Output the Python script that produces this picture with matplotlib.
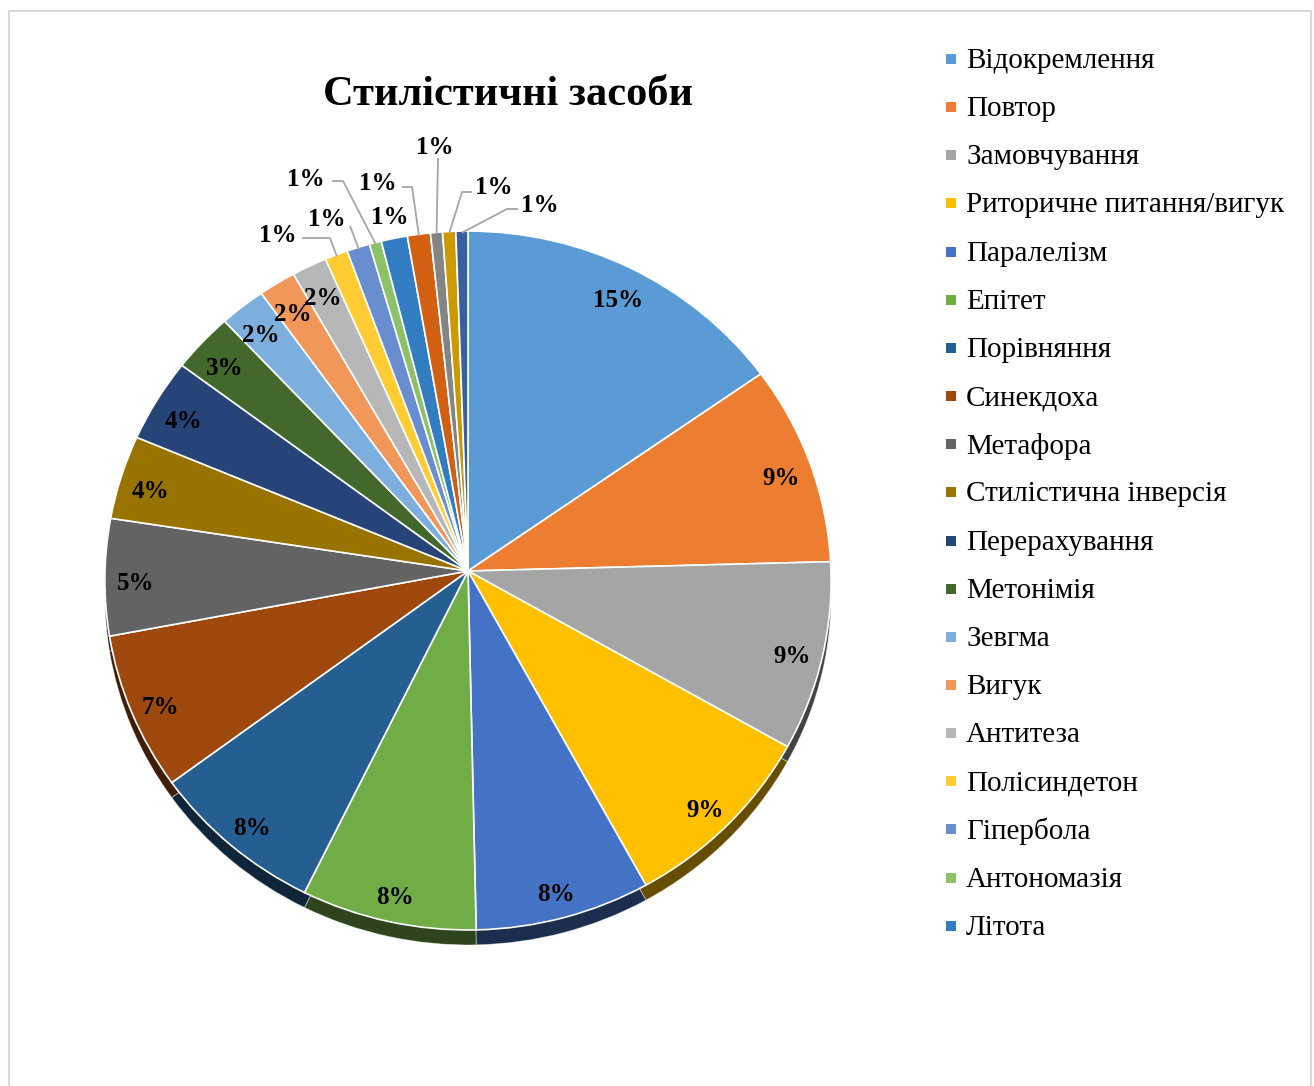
import matplotlib
matplotlib.use('Agg')
import matplotlib.pyplot as plt
from matplotlib.patches import Rectangle
from matplotlib.colors import to_rgb
from matplotlib.transforms import Transform, Affine2D
import numpy as np

# ---------------- data ----------------
title = "Стилістичні засоби"
categories = ["Відокремлення", "Повтор", "Замовчування", "Риторичне питання/вигук",
              "Паралелізм", "Епітет", "Порівняння", "Синекдоха", "Метафора",
              "Стилістична інверсія", "Перерахування", "Метонімія", "Зевгма", "Вигук",
              "Антитеза", "Полісиндетон", "Гіпербола", "Антономазія", "Літота",
              "Категорія 20", "Категорія 21", "Категорія 22", "Категорія 23"]
# estimated shares (%)
values = [15.3, 9.3, 8.7, 8.8, 7.6, 7.6, 7.6, 7.2, 5.4, 3.9, 3.9, 2.8, 2.1, 1.7,
          1.6, 1.05, 1.05, 0.55, 1.2, 1.05, 0.55, 0.6, 0.55]
colors = ["#5B9BD5", "#ED7D31", "#A5A5A5", "#FFC000", "#4472C4", "#70AD47",
          "#255E91", "#9E480E", "#636363", "#997300", "#264478", "#43682B",
          "#7CAFDD", "#F1975A", "#B7B7B7", "#FFCD33", "#698ED0", "#8CC168",
          "#327DC2", "#D26012", "#848484", "#CC9A00", "#3A5FA0"]
legend_count = 19

# ---------------- layout (pixels) ----------------
W, H = 1314, 1086
CX, CY = 468, 571          # point where slices meet
SX, SY, TILT = 363, 349.2, 0.0272   # perspective-like projection of the pie disc
DEPTH = 15
LABEL_DY = 7
serif = ["Liberation Serif", "DejaVu Serif"]

# outside labels for the smallest slices: (index, label xy, leader polyline start/elbow points)
outside = [
    (15, (278, 235), [(302, 238), (330, 238)]),
    (16, (327, 219), [(350, 226)]),
    (17, (306, 179), [(332, 181), (343, 181)]),
    (18, (390, 217), []),
    (19, (378, 184), [(402, 187), (412, 187)]),
    (20, (435, 147), [(438, 158)]),
    (21, (494, 187), [(472, 192), (462, 192)]),
    (22, (540, 206), [(518, 209), (507, 209)]),
]


class Tilt(Transform):
    """Maps the unit pie disc to pixel coordinates with a slight 3D tilt."""
    input_dims = output_dims = 2

    def transform_non_affine(self, xy):
        xy = np.asarray(xy, dtype=float).reshape(-1, 2)
        d = 1 + TILT * xy[:, 1]
        return np.column_stack([CX + SX * xy[:, 0] / d, CY - SY * xy[:, 1] / d])


fig = plt.figure(figsize=(W / 100, H / 100), dpi=100)
ax = fig.add_axes([0, 0, 1, 1])
tilt = Tilt()

dark = [tuple(c * 0.4 for c in to_rgb(col)) for col in colors]

# side (depth) of the 3D pie
side_w, _ = ax.pie(values, colors=dark, startangle=90, counterclock=False, radius=1,
                   wedgeprops=dict(edgecolor=(1, 1, 1, 0.5), linewidth=0.6))
for w in side_w:
    w.set_transform(tilt + Affine2D().translate(0, DEPTH) + ax.transData)

wedges, texts, autotexts = ax.pie(
    values, colors=colors, startangle=90, counterclock=False,
    radius=1, autopct='%1.0f%%', pctdistance=0.915,
    wedgeprops=dict(edgecolor='white', linewidth=1.2),
    textprops=dict(fontsize=18, fontweight='bold', family=serif, color='black'))
for w in wedges:
    w.set_transform(tilt + ax.transData)
for t in autotexts:
    x, y = tilt.transform(np.array([t.get_position()]))[0]
    t.set_position((x, y + LABEL_DY))

ax.set_aspect('auto')
ax.set_xlim(0, W)
ax.set_ylim(H, 0)
ax.axis('off')

for idx, lab_xy, pts in outside:
    autotexts[idx].set_position(lab_xy)
    autotexts[idx].set_ha('center')
    autotexts[idx].set_va('center')
    if pts:
        w = wedges[idx]
        mid = np.deg2rad((w.theta1 + w.theta2) / 2)
        end = tilt.transform(np.array([[np.cos(mid) * 0.995, np.sin(mid) * 0.995]]))[0]
        xs = [p[0] for p in pts] + [end[0]]
        ys = [p[1] for p in pts] + [end[1]]
        ax.plot(xs, ys, color='#A6A6A6', lw=1.3, solid_capstyle='butt', zorder=1.5)

# title
fig.text(508 / W, 1 - 95 / H, title, ha='center', va='center',
         fontsize=30.5, fontweight='bold', family=serif)

# legend (manual, first entries only as in the original)
for i in range(legend_count):
    y = 59 + 48.15 * i
    fig.patches.append(Rectangle((946 / W, 1 - (y + 5) / H), 10 / W, 10 / H,
                                 transform=fig.transFigure, facecolor=colors[i],
                                 edgecolor='none'))
    fig.text(966 / W, 1 - (y + 2) / H, categories[i], ha='left', va='center',
             fontsize=21, family=serif)

# chart border
fig.patches.append(Rectangle((9 / W, -0.01), (1311 - 9) / W, 1.01 - 11 / H,
                             transform=fig.transFigure, facecolor='none',
                             edgecolor='#D9D9D9', linewidth=1.5))

fig.savefig('out.png', dpi=100)
